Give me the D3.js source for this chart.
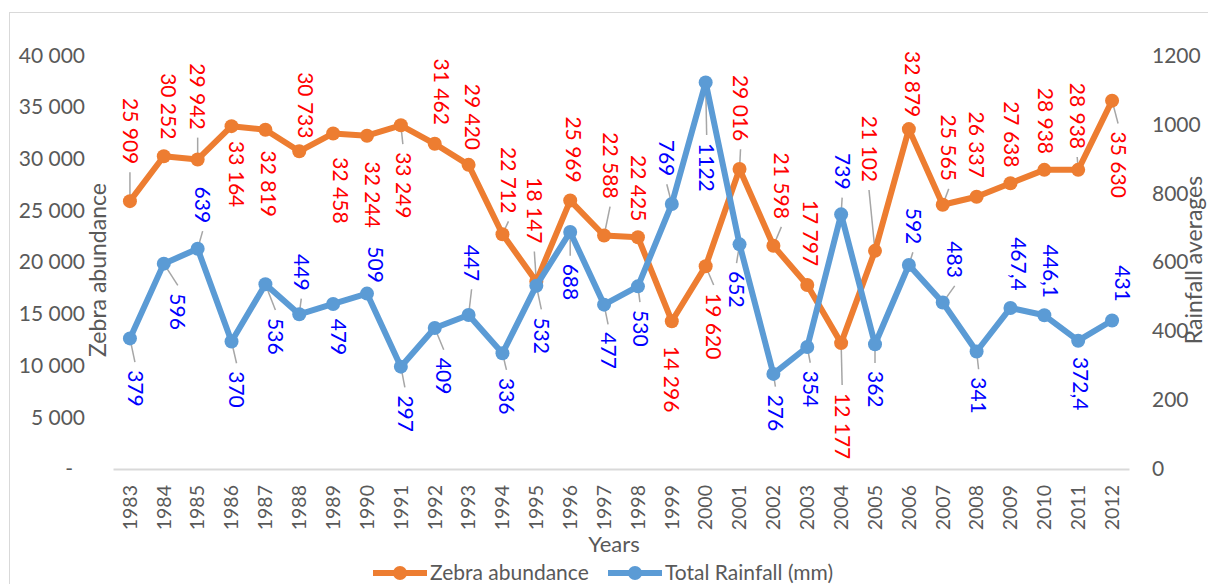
<!DOCTYPE html>
<html>
<head>
<meta charset="utf-8">
<script src="https://cdn.jsdelivr.net/npm/d3@7"></script>
<style>
  body { margin: 0; background: #fff; }
  text { font-family: Lato, "Open Sans", sans-serif; }
</style>
</head>
<body>
<div id="chart"></div>
<script>
// data
const years = [1983, 1984, 1985, 1986, 1987, 1988, 1989, 1990, 1991, 1992,
  1993, 1994, 1995, 1996, 1997, 1998, 1999, 2000, 2001, 2002,
  2003, 2004, 2005, 2006, 2007, 2008, 2009, 2010, 2011, 2012];
const zebra = [25909, 30252, 29942, 33164, 32819, 30733, 32458, 32244, 33249, 31462,
  29420, 22712, 18147, 25969, 22588, 22425, 14296, 19620, 29016, 21598,
  17797, 12177, 21102, 32879, 25565, 26337, 27638, 28938, 28938, 35630];
const rainfall = [379, 596, 639, 370, 536, 449, 479, 509, 297, 409,
  447, 336, 532, 688, 477, 530, 769, 1122, 652, 276,
  354, 739, 362, 592, 483, 341, 467.4, 446.1, 372.4, 431];
const leftTicks = [0, 5000, 10000, 15000, 20000, 25000, 30000, 35000, 40000];
const rightTicks = [0, 200, 400, 600, 800, 1000, 1200];

// label placement (dx, dy of label centre from the point, leader line on/off)
const zebraLabelPos = [[0,-70,1],[5,-50,0],[0,-63,1],[5,48,0],[3,54,0],[6,-46,0],[7,57,0],[5,59,0],[2,60,1],[7,-52,0],
  [4,-48,0],[6,-54,1],[-2,-71,1],[3,-51,0],[6,-70,1],[0,-49,0],[0,58,0],[8,60,1],[1,-61,1],[8,-60,1],
  [3,-52,0],[1,83,1],[-6,-102,1],[3,-45,0],[6,-57,1],[0,-52,0],[1,-49,0],[1,-49,0],[-1,-54,1],[6,64,1]];
const rainLabelPos = [[5,50,1],[14,48,1],[5,-44,1],[5,48,1],[10,52,1],[2,-42,1],[5,33,0],[8,-29,0],[4,47,1],[9,48,1],
  [3,-52,1],[4,43,1],[5,50,1],[0,50,1],[4,46,1],[2,42,1],[-5,-46,1],[1,85,1],[-3,45,1],[2,39,1],
  [3,42,1],[1,-43,1],[0,45,1],[4,-39,1],[12,-43,1],[2,44,1],[8,-44,0],[6,-44,0],[2,43,0],[10,-37,0]];

const W = 1208, H = 584;
const plot = {left: 113, right: 1129, top: 55.5, bottom: 469};

const svg = d3.select("#chart").append("svg")
  .attr("width", W)
  .attr("height", H);

// chart border
svg.append("rect")
  .attr("x", 9.5).attr("y", 12.5)
  .attr("width", W + 10).attr("height", H + 10)
  .attr("fill", "none")
  .attr("stroke", "#d9d9d9");

const x = d3.scaleBand()
  .domain(years)
  .range([plot.left, plot.right]);
const yL = d3.scaleLinear().domain([0, 40000]).range([plot.bottom, plot.top]);
const yR = d3.scaleLinear().domain([0, 1200]).range([plot.bottom, plot.top]);
const cx = d => x(d) + x.bandwidth() / 2;

const spaceFmt = d3.formatLocale({decimal: ",", thousands: " ", grouping: [3], currency: ["", ""]});
const fmtInt = spaceFmt.format(",d");
const fmtDec = v => Number.isInteger(v) ? String(v) : spaceFmt.format(",.1f")(v);

// left axis
const leftAxis = svg.append("g")
  .attr("transform", `translate(${plot.left - 28},0)`)
  .call(d3.axisLeft(yL).tickValues(leftTicks).tickSize(0).tickPadding(0)
    .tickFormat(d => d === 0 ? "-" : fmtInt(d)));
leftAxis.select(".domain").remove();
leftAxis.selectAll("text")
  .attr("fill", "#595959")
  .style("font-size", "21px")
  .attr("dx", d => d === 0 ? -12 : 0);

// right axis
const rightAxis = svg.append("g")
  .attr("transform", `translate(${plot.right + 23},0)`)
  .call(d3.axisRight(yR).tickValues(rightTicks).tickSize(0).tickPadding(0)
    .tickFormat(d3.format("d")));
rightAxis.select(".domain").remove();
rightAxis.selectAll("text")
  .attr("fill", "#595959")
  .style("font-size", "21px");

// x axis
const xAxis = svg.append("g")
  .attr("transform", `translate(0,${plot.bottom})`)
  .call(d3.axisBottom(x).tickSize(0).tickPadding(0));
xAxis.select(".domain").attr("stroke", "#d9d9d9").attr("stroke-width", 2);
xAxis.selectAll("text")
  .attr("fill", "#595959")
  .style("font-size", "19.5px")
  .attr("text-anchor", "end")
  .attr("transform", "rotate(-90)")
  .attr("x", -16)
  .attr("y", 0)
  .attr("dy", "0.35em");

// axis titles
svg.append("text")
  .attr("transform", "translate(98,270) rotate(-90)")
  .attr("text-anchor", "middle")
  .attr("dy", "0.35em")
  .attr("fill", "#595959")
  .style("font-size", "23px")
  .text("Zebra abundance");

svg.append("text")
  .attr("transform", "translate(1194,260) rotate(-90)")
  .attr("text-anchor", "middle")
  .attr("dy", "0.35em")
  .attr("fill", "#595959")
  .style("font-size", "23px")
  .text("Rainfall averages");

svg.append("text")
  .attr("x", 614).attr("y", 552)
  .attr("text-anchor", "middle")
  .attr("fill", "#595959")
  .style("font-size", "22px")
  .text("Years");

// series
const series = [
  {name: "Zebra abundance", values: zebra, scale: yL, color: "#ED7D31", labelColor: "#FF0000", pos: zebraLabelPos, fmt: fmtInt},
  {name: "Total Rainfall (mm)", values: rainfall, scale: yR, color: "#5B9BD5", labelColor: "#0000FF", pos: rainLabelPos, fmt: fmtDec}
];

const leaderG = svg.append("g");
const markG = svg.append("g");
const labelG = svg.append("g");

series.forEach(s => {
  const pts = years.map((yr, i) => ({yr, v: s.values[i], i}));
  const line = d3.line().x(d => cx(d.yr)).y(d => s.scale(d.v));

  markG.append("path")
    .datum(pts)
    .attr("d", line)
    .attr("fill", "none")
    .attr("stroke", s.color)
    .attr("stroke-width", 6)
    .attr("stroke-linejoin", "round");

  markG.selectAll(null)
    .data(pts)
    .join("circle")
    .attr("cx", d => cx(d.yr))
    .attr("cy", d => s.scale(d.v))
    .attr("r", 7)
    .attr("fill", s.color);

  pts.forEach(d => {
    const [dx, dy, lead] = s.pos[d.i];
    const px = cx(d.yr), py = s.scale(d.v);
    const lx = px + dx, ly = py + dy;
    const t = labelG.append("text")
      .attr("transform", `translate(${lx},${ly}) rotate(90)`)
      .attr("text-anchor", "middle")
      .attr("dy", "0.35em")
      .attr("fill", s.labelColor)
      .style("font-size", "21px")
      .text(s.fmt(d.v));
    if (lead) {
      const half = t.node().getComputedTextLength() / 2;
      const edge = dy < 0 ? ly + half + 8 : ly - half - 8;
      leaderG.append("line")
        .attr("x1", px).attr("y1", py)
        .attr("x2", lx).attr("y2", edge)
        .attr("stroke", "#a6a6a6")
        .attr("stroke-width", 1.5);
    }
  });
});

// legend
const legend = svg.append("g");
const legItems = [
  {s: series[0], x0: 373},
  {s: series[1], x0: 608}
];
legItems.forEach(it => {
  legend.append("line")
    .attr("x1", it.x0).attr("x2", it.x0 + 54)
    .attr("y1", 573).attr("y2", 573)
    .attr("stroke", it.s.color)
    .attr("stroke-width", 6);
  legend.append("circle")
    .attr("cx", it.x0 + 27).attr("cy", 573)
    .attr("r", 7)
    .attr("fill", it.s.color);
  legend.append("text")
    .attr("x", it.x0 + 57).attr("y", 573)
    .attr("dy", "0.35em")
    .attr("fill", "#595959")
    .style("font-size", "21px")
    .text(it.s.name);
});
</script>
</body>
</html>
